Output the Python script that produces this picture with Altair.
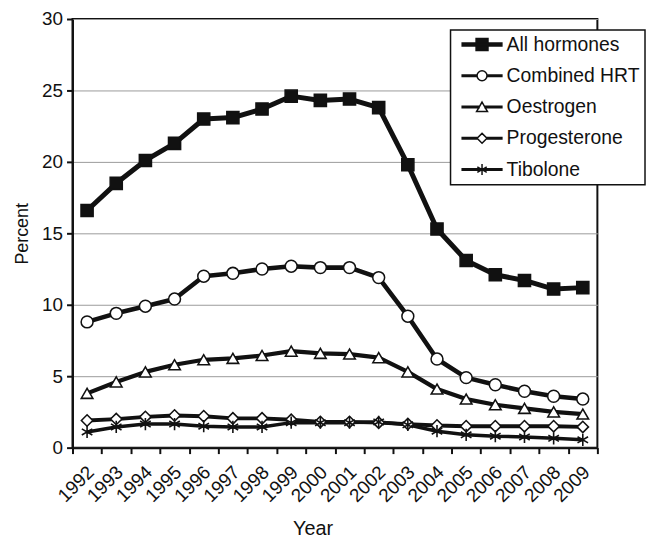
import altair as alt
import pandas as pd

years = [str(y) for y in range(1992, 2010)]
series_names = ["All hormones", "Combined HRT", "Oestrogen", "Progesterone", "Tibolone"]

all_hormones = [16.6, 18.5, 20.1, 21.3, 23.0, 23.1, 23.7, 24.6, 24.3, 24.4, 23.8, 19.8, 15.3, 13.1, 12.1, 11.7, 11.1, 11.2]
combined_hrt = [8.8, 9.4, 9.9, 10.4, 12.0, 12.2, 12.5, 12.7, 12.6, 12.6, 11.9, 9.2, 6.2, 4.9, 4.4, 3.95, 3.6, 3.4]
oestrogen = [3.8, 4.6, 5.3, 5.8, 6.15, 6.25, 6.45, 6.75, 6.6, 6.55, 6.3, 5.3, 4.1, 3.4, 3.0, 2.75, 2.5, 2.35]
progesterone = [1.9, 2.0, 2.15, 2.25, 2.2, 2.05, 2.05, 1.95, 1.8, 1.8, 1.75, 1.65, 1.55, 1.5, 1.5, 1.5, 1.5, 1.45]
tibolone = [1.1, 1.45, 1.65, 1.65, 1.5, 1.45, 1.45, 1.75, 1.75, 1.75, 1.8, 1.6, 1.15, 0.9, 0.8, 0.75, 0.65, 0.55]

y_ticks = [0, 5, 10, 15, 20, 25, 30]

rows = []
for name, vals in zip(series_names, [all_hormones, combined_hrt, oestrogen, progesterone, tibolone]):
    for yr, v in zip(years, vals):
        rows.append({"Year": yr, "Percent": v, "Series": name})
df = pd.DataFrame(rows)

FONT = "Liberation Sans"
INK = "#111111"

# marker shapes used on the plot
TIB = "M0,-1.1V1.1M-0.95,-0.55L0.95,0.55M-0.95,0.55L0.95,-0.55"
marker_shapes = ["square", "circle", "triangle-up", "diamond", TIB]
marker_fills = [INK, "white", "white", "white", INK]
marker_sizes = [150, 125, 125, 115, 150]
marker_strokes = [1.5, 1.6, 1.6, 1.6, 2.2]
line_widths = [5, 3.5, 3.5, 3.5, 3.5]

# legend symbols: line segment + marker
legend_shapes = [
    "M-4,-0.3H4V0.3H-4Z M-1.2,-1.2H1.2V1.2H-1.2Z",
    "M-4,-0.15H-1V0.15H-4Z M1,-0.15H4V0.15H1Z M-1,0A1,1 0 1,0 1,0A1,1 0 1,0 -1,0",
    "M-4,-0.15H-0.6V0.15H-4Z M0.6,-0.15H4V0.15H0.6Z M0,-1L1.1,0.9H-1.1Z",
    "M-4,-0.15H-1V0.15H-4Z M1,-0.15H4V0.15H1Z M0,-1L1,0L0,1L-1,0Z",
    "M-4,-0.15H4V0.15H-4Z M0,-1.1V1.1 M-0.95,-0.55L0.95,0.55 M-0.95,0.55L0.95,-0.55",
]
legend_fills = [INK, "white", "white", "white", INK]
legend_strokes = [INK, INK, INK, INK, INK]

x_enc = alt.X(
    "Year:O",
    sort=years,
    bandPosition=0.5,
    scale=alt.Scale(type="band", paddingInner=0, paddingOuter=0),
    axis=alt.Axis(
        title="Year", labelAngle=-45, tickBand="extent",
        domainColor=INK, domainWidth=2, tickColor=INK, tickWidth=2, tickSize=6,
        labelFont=FONT, labelFontSize=19, labelColor=INK, labelPadding=9, labelOffset=-3,
        titleFont=FONT, titleFontSize=20, titleFontWeight="normal", titleColor=INK,
        titlePadding=13, titleX=242,
    ),
)
y_enc = alt.Y(
    "Percent:Q",
    scale=alt.Scale(domain=[0, 30], nice=False),
    axis=alt.Axis(
        title="Percent", values=y_ticks, grid=True, gridColor="#9a9a9a", gridWidth=1,
        domainColor=INK, domainWidth=2, tickColor=INK, tickWidth=2, tickSize=6,
        labelFont=FONT, labelFontSize=19, labelColor=INK, labelPadding=4,
        titleFont=FONT, titleFontSize=18, titleFontWeight="normal", titleColor=INK,
        titlePadding=10,
    ),
)

lines = alt.Chart(df).mark_line(color=INK, strokeJoin="round").encode(
    x=x_enc, y=y_enc, detail="Series:N",
    strokeWidth=alt.StrokeWidth("Series:N", scale=alt.Scale(domain=series_names, range=line_widths), legend=None),
)

markers = alt.Chart(df).mark_point(filled=False, stroke=INK, opacity=1).encode(
    x=x_enc, y=y_enc,
    shape=alt.Shape("Series:N", scale=alt.Scale(domain=series_names, range=marker_shapes), legend=None),
    fill=alt.Fill("Series:N", scale=alt.Scale(domain=series_names, range=marker_fills), legend=None),
    size=alt.Size("Series:N", scale=alt.Scale(domain=series_names, range=marker_sizes), legend=None),
    strokeWidth=alt.StrokeWidth("Series:N", scale=alt.Scale(domain=series_names, range=marker_strokes), legend=None),
)

leg = alt.Legend(
    title=None, orient="none", legendX=381, legendY=11,
    fillColor="white", strokeColor=INK, padding=5,
    labelFont=FONT, labelFontSize=19.5, labelColor=INK,
    symbolSize=100, symbolStrokeWidth=1.5,
    symbolOffset=17, labelOffset=15, rowPadding=10.5, symbolOpacity=1,
)

legend_layer = alt.Chart(df).mark_point(opacity=0, size=100, strokeWidth=1.5).encode(
    x=x_enc, y=y_enc,
    shape=alt.Shape("Series:N", scale=alt.Scale(domain=series_names, range=legend_shapes), legend=leg),
    fill=alt.Fill("Series:N", scale=alt.Scale(domain=series_names, range=legend_fills), legend=leg),
    stroke=alt.Stroke("Series:N", scale=alt.Scale(domain=series_names, range=legend_strokes), legend=leg),
)

chart = alt.layer(lines, markers, legend_layer).resolve_scale(
    shape="independent", fill="independent", size="independent",
    strokeWidth="independent", stroke="independent",
).properties(
    width=529, height=432,
    padding={"left": 5, "top": 0, "right": 0, "bottom": 0},
    background="white",
).configure_view(stroke=INK, strokeWidth=2).configure_legend(strokeWidth=1.5)

chart.save("out.html", embed_options={"renderer": "svg", "actions": False})
